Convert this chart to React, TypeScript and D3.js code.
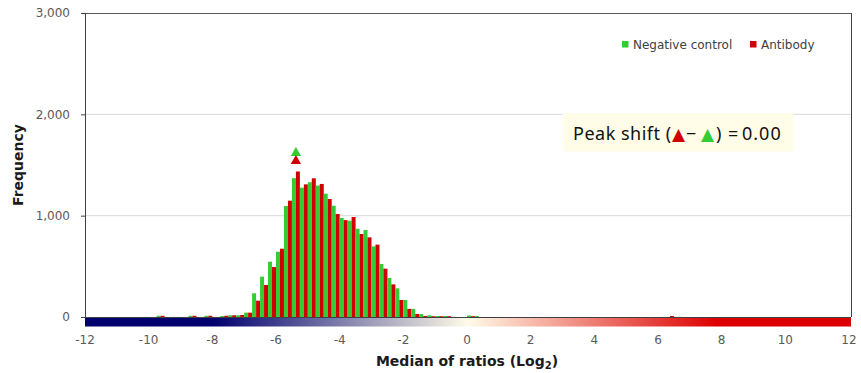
import React from "react";
import * as d3 from "d3";

// Bin starts (log2 median of ratios), bin width 0.25
const binStarts = [
  -9.75, -8.75, -8.25, -7.75, -7.5, -7.25, -7.0, -6.75, -6.5, -6.25, -6.0, -5.75,
  -5.5, -5.25, -5.0, -4.75, -4.5, -4.25, -4.0, -3.75, -3.5, -3.25, -3.0, -2.75,
  -2.5, -2.25, -2.0, -1.75, -1.5, -1.25, -1.0, -0.75, 0.0, 0.25, 6.25,
];
const negativeControl = [
  12, 12, 12, 10, 17, 17, 43, 234, 398, 546, 644, 1095,
  1370, 1276, 1330, 1297, 1217, 1098, 978, 950, 871, 859, 697, 523,
  385, 283, 168, 80, 30, 17, 10, 10, 15, 10, 0,
];
const antibody = [
  12, 12, 12, 12, 17, 20, 43, 161, 316, 493, 674, 1148,
  1436, 1309, 1369, 1313, 1164, 1017, 956, 987, 819, 786, 714, 477,
  322, 168, 80, 30, 10, 8, 8, 8, 8, 0, 10,
];
const peakMarkers = [
  { series: "Negative control", x: -5.375, y: 1618 },
  { series: "Antibody", x: -5.375, y: 1539 },
];
const yTicks = [0, 1000, 2000, 3000];
const xTicks = [-12, -10, -8, -6, -4, -2, 0, 2, 4, 6, 8, 10, 12];
const binWidth = 0.25;
const peakShift = 0.0;

const GREEN = "#33cc33";
const RED = "#d00000";

export default function App() {
  const W = 861;
  const H = 373;
  const left = 85;
  const right = 849;
  const top = 13;
  const bottom = 317;
  const x = d3.scaleLinear().domain([-12, 12]).range([left, right]);
  const y = d3.scaleLinear().domain([0, 3000]).range([bottom, top]);
  const fmt = d3.format(",");
  const bw = x(binWidth) - x(0);
  const tri = d3.symbol().type(d3.symbolTriangle).size(46)() as string;

  return (
    <svg width={W} height={H} style={{ position: "absolute", left: 0, top: 0 }} fontFamily="DejaVu Sans">
      <defs>
        <linearGradient id="band" x1="0" x2="1" y1="0" y2="0">
          <stop offset={0} stopColor="#00006e" />
          <stop offset={(x(-8) - left) / (right - left)} stopColor="#00006e" />
          <stop offset={(x(0) - left) / (right - left)} stopColor="#fffbe8" />
          <stop offset={(x(7.8) - left) / (right - left)} stopColor="#dd0000" />
          <stop offset={1} stopColor="#dd0000" />
        </linearGradient>
      </defs>
      <rect width={W} height={H} fill="#fff" />
      {/* gridlines */}
      {yTicks.filter((t) => t > 0 && t < 3000).map((t) => (
        <line key={t} x1={left} x2={851} y1={y(t)} y2={y(t)} stroke="#d9d9d9" strokeWidth={1} />
      ))}
      {/* frame */}
      <line x1={left} x2={851} y1={y(3000) + 0.5} y2={y(3000) + 0.5} stroke="#595959" />
      <line x1={851.5} x2={851.5} y1={y(3000)} y2={bottom} stroke="#404040" />
      {/* bars */}
      {binStarts.map((b, i) => (
        <g key={b}>
          {negativeControl[i] > 0 && (
            <rect x={x(b)} width={bw / 2} y={y(negativeControl[i])} height={bottom - y(negativeControl[i])} fill={GREEN} />
          )}
          {antibody[i] > 0 && (
            <rect x={x(b) + bw / 2} width={bw / 2} y={y(antibody[i])} height={bottom - y(antibody[i])} fill={RED} />
          )}
        </g>
      ))}
      {/* peak markers */}
      {peakMarkers.map((m) => (
        <path key={m.series} d={tri} transform={`translate(${x(m.x)},${y(m.y)})`} fill={m.series === "Antibody" ? RED : GREEN} />
      ))}
      {/* band */}
      <rect x={left} width={851 - left} y={bottom} height={9.5} fill="url(#band)" />
      {/* axes */}
      <line x1={left + 0.5} x2={left + 0.5} y1={top} y2={bottom} stroke="#404040" />
      <line x1={81} x2={851} y1={bottom + 0.5} y2={bottom + 0.5} stroke="#404040" />
      {yTicks.map((t) => (
        <g key={t}>
          <line x1={81} x2={left} y1={y(t) + 0.5} y2={y(t) + 0.5} stroke="#404040" />
          <text x={70} y={y(t)} dy="0.35em" textAnchor="end" fontSize={12} fill="#595959">
            {fmt(t)}
          </text>
        </g>
      ))}
      {xTicks.map((t) => (
        <text key={t} x={x(t)} y={340} dy="0.35em" textAnchor="middle" fontSize={12} fill="#595959">
          {t}
        </text>
      ))}
      <text x={x(0)} y={366} textAnchor="middle" fontSize={14} fontWeight="bold" fill="#1a1a1a">
        Median of ratios (Log<tspan fontSize={10} dy={3}>2</tspan>
        <tspan dy={-3}>)</tspan>
      </text>
      <text transform="translate(23,165) rotate(-90)" textAnchor="middle" fontSize={14} fontWeight="bold" fill="#1a1a1a">
        Frequency
      </text>
      {/* legend */}
      <rect x={622} y={41} width={6.5} height={6.5} fill={GREEN} />
      <text x={633} y={44.5} dy="0.35em" fontSize={12} fill="#404040">Negative control</text>
      <rect x={750} y={41} width={6.5} height={6.5} fill={RED} />
      <text x={761} y={44.5} dy="0.35em" fontSize={12} fill="#404040">Antibody</text>
      {/* peak shift box */}
      <rect x={563} y={113.5} width={230} height={38} fill="#fffde8" />
      <text x={573} y={139.5} fontFamily="Noto Sans" fontSize={18} fill="#111">
        <tspan letterSpacing={0.5}>{"Peak shift ("}</tspan>
        <tspan x={672} fill={RED} fontFamily="DejaVu Sans" fontSize={17}>{"▲"}</tspan>
        <tspan x={686}>{"−"}</tspan>
        <tspan x={701} fill={GREEN} fontFamily="DejaVu Sans" fontSize={17}>{"▲"}</tspan>
        <tspan x={716}>{")"}</tspan>
        <tspan x={728}>{"="}</tspan>
        <tspan x={742} letterSpacing={1}>{peakShift.toFixed(2)}</tspan>
      </text>
    </svg>
  );
}
